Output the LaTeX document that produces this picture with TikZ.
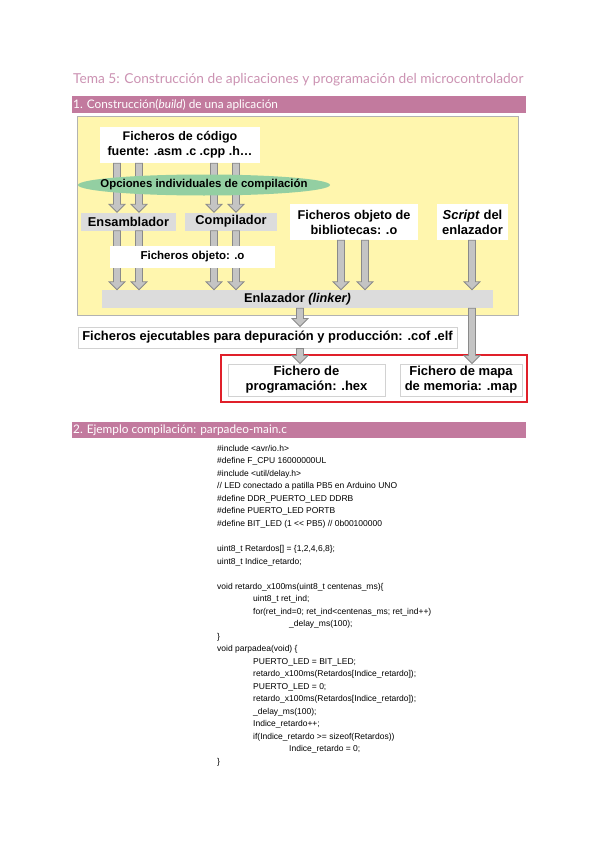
\documentclass[tikz,border=0pt]{standalone}
\usepackage{fontspec}
\setmainfont{Liberation Sans}
\newfontfamily\titlefont{Lato}
\usetikzlibrary{calc}

\definecolor{rosa}{HTML}{C27A9E}
\definecolor{rosaclaro}{HTML}{CC93B3}
\definecolor{amarillo}{HTML}{FFF6AE}
\definecolor{verde}{HTML}{93CFA2}
\definecolor{grisbox}{HTML}{DCDCDC}
\definecolor{grisflecha}{HTML}{C4C4C4}
\definecolor{grisborde}{HTML}{8A8A8A}
\definecolor{rojo}{HTML}{E0202A}

\newcommand{\fsz}[1]{\fontsize{#1}{15}\selectfont}

% flecha gris: x, desde, hasta
\newcommand{\garrow}[3]{%
  \filldraw[garrow] let \p1=(#2), \p2=(#3) in
    (#1pt-3.5pt,\y1) -- (#1pt+3.5pt,\y1) -- (#1pt+3.5pt,\y2+8pt) -- (#1pt+8pt,\y2+8pt)
    -- (#1pt,\y2) -- (#1pt-8pt,\y2+8pt) -- (#1pt-3.5pt,\y2+8pt) -- cycle;}

\tikzset{
  whitebox/.style={fill=white, font=\bfseries, align=center, inner sep=0pt},
  greybox/.style={fill=grisbox, font=\bfseries, align=center, inner sep=0pt},
  filebox/.style={draw=gray!35, line width=1pt, fill=white, font=\bfseries, align=center, inner sep=0pt},
  garrow/.style={fill=grisflecha, draw=grisborde, line width=0.8pt},
  barra/.style={fill=rosa},
}

\begin{document}
\begin{tikzpicture}[x=1pt,y=-1pt]
\useasboundingbox[fill=white] (0,0) rectangle (599,848);

% titulo
\node[anchor=west, text=rosaclaro, font=\titlefont\fsz{13.7}, inner sep=0pt] (titulo) at (73,80)
  {Tema 5: Construcción de aplicaciones y programación del microcontrolador};

% seccion 1
\fill[barra] (72,96) rectangle (526,113);
\node[anchor=west, text=white, font=\titlefont\fsz{11.8}, inner sep=0pt] (sec1) at (73,104.5)
  {1. Construcción(\textit{build}) de una aplicación};

\draw[fill=amarillo, draw=gray!60, line width=1pt] (77,117) rectangle (518,315);

\node[whitebox, minimum width=160, minimum height=36, font=\bfseries\fsz{12.5}] (fuente) at (180,145)
  {Ficheros de código\\fuente: .asm .c .cpp .h…};
\node[greybox, minimum width=95, minimum height=18, font=\bfseries\fsz{12.8}] (ensamblador) at (128.5,221.5) {Ensamblador};
\node[greybox, minimum width=92, minimum height=18, font=\bfseries\fsz{12.8}] (compilador) at (231,221.5) {Compilador};
\node[whitebox, minimum width=128, minimum height=36, font=\bfseries\fsz{12.7}] (bibliotecas) at (354,222)
  {Ficheros objeto de\\bibliotecas: .o};
\node[whitebox, minimum width=71, minimum height=36, font=\bfseries\fsz{13}] (script) at (472.5,222)
  {\textit{Script} del\\enlazador};
\node[greybox, minimum width=391, minimum height=18, font=\bfseries\fsz{12.7}] (enlazador) at (297.5,299)
  {Enlazador \textit{(linker)}};

% flechas
\garrow{117}{fuente.south}{ensamblador.north}
\garrow{139}{fuente.south}{ensamblador.north}
\garrow{214}{fuente.south}{compilador.north}
\garrow{236}{fuente.south}{compilador.north}
\garrow{117}{ensamblador.south}{enlazador.north}
\garrow{139}{ensamblador.south}{enlazador.north}
\garrow{214}{compilador.south}{enlazador.north}
\garrow{236}{compilador.south}{enlazador.north}
\garrow{341}{bibliotecas.south}{enlazador.north}
\garrow{365}{bibliotecas.south}{enlazador.north}
\garrow{472}{script.south}{enlazador.north}

\fill[verde] (204,185) ellipse (126 and 10.5);
\node[inner sep=0pt, font=\bfseries\fsz{11.4}] (opciones) at (204,185)
  {Opciones individuales de compilación};
\node[whitebox, minimum width=165, minimum height=22, font=\bfseries\fsz{11.5}] (objeto) at (192.5,257) {Ficheros objeto: .o};

\node[filebox, minimum width=379, minimum height=21, font=\bfseries\fsz{12.9}] (ejecutables) at (267.5,337.5)
  {Ficheros ejecutables para depuración y producción: .cof .elf};

\draw[rojo, line width=2pt] (221,355) rectangle (527,402);
\node[filebox, minimum width=157, minimum height=32, font=\bfseries\fsz{13}] (programacion) at (306.5,380)
  {Fichero de\\programación: .hex};
\node[filebox, minimum width=122, minimum height=32, font=\bfseries\fsz{13}] (mapa) at (461,380)
  {Fichero de mapa\\de memoria: .map};

\garrow{300}{enlazador.south}{ejecutables.north}
\garrow{472}{enlazador.south}{mapa.north}
\garrow{300}{ejecutables.south}{programacion.north}

% seccion 2
\fill[barra] (72,422) rectangle (526,438);
\node[anchor=west, text=white, font=\titlefont\fsz{11.8}, inner sep=0pt] (sec2) at (73,430)
  {2. Ejemplo compilación: parpadeo-main.c};

\node[anchor=north west, align=left, inner sep=0pt, font=\fontsize{8.5}{12.52}\selectfont] (codigo) at (217,445)
  {\#include <avr/io.h>\\
   \#define F\_CPU 16000000UL\\
   \#include <util/delay.h>\\
   // LED conectado a patilla PB5 en Arduino UNO\\
   \#define DDR\_PUERTO\_LED DDRB\\
   \#define PUERTO\_LED PORTB\\
   \#define BIT\_LED (1 <{}< PB5) // 0b00100000\\
   \mbox{}\\
   uint8\_t Retardos[] = \{1,2,4,6,8\};\\
   uint8\_t Indice\_retardo;\\
   \mbox{}\\
   void retardo\_x100ms(uint8\_t centenas\_ms)\{\\
   \hspace*{36pt}uint8\_t ret\_ind;\\
   \hspace*{36pt}for(ret\_ind=0; ret\_ind<centenas\_ms; ret\_ind++)\\
   \hspace*{72pt}\_delay\_ms(100);\\
   \}\\
   void parpadea(void) \{\\
   \hspace*{36pt}PUERTO\_LED = BIT\_LED;\\
   \hspace*{36pt}retardo\_x100ms(Retardos[Indice\_retardo]);\\
   \hspace*{36pt}PUERTO\_LED = 0;\\
   \hspace*{36pt}retardo\_x100ms(Retardos[Indice\_retardo]);\\
   \hspace*{36pt}\_delay\_ms(100);\\
   \hspace*{36pt}Indice\_retardo++;\\
   \hspace*{36pt}if(Indice\_retardo >= sizeof(Retardos))\\
   \hspace*{72pt}Indice\_retardo = 0;\\
   \}};
\end{tikzpicture}
\end{document}
